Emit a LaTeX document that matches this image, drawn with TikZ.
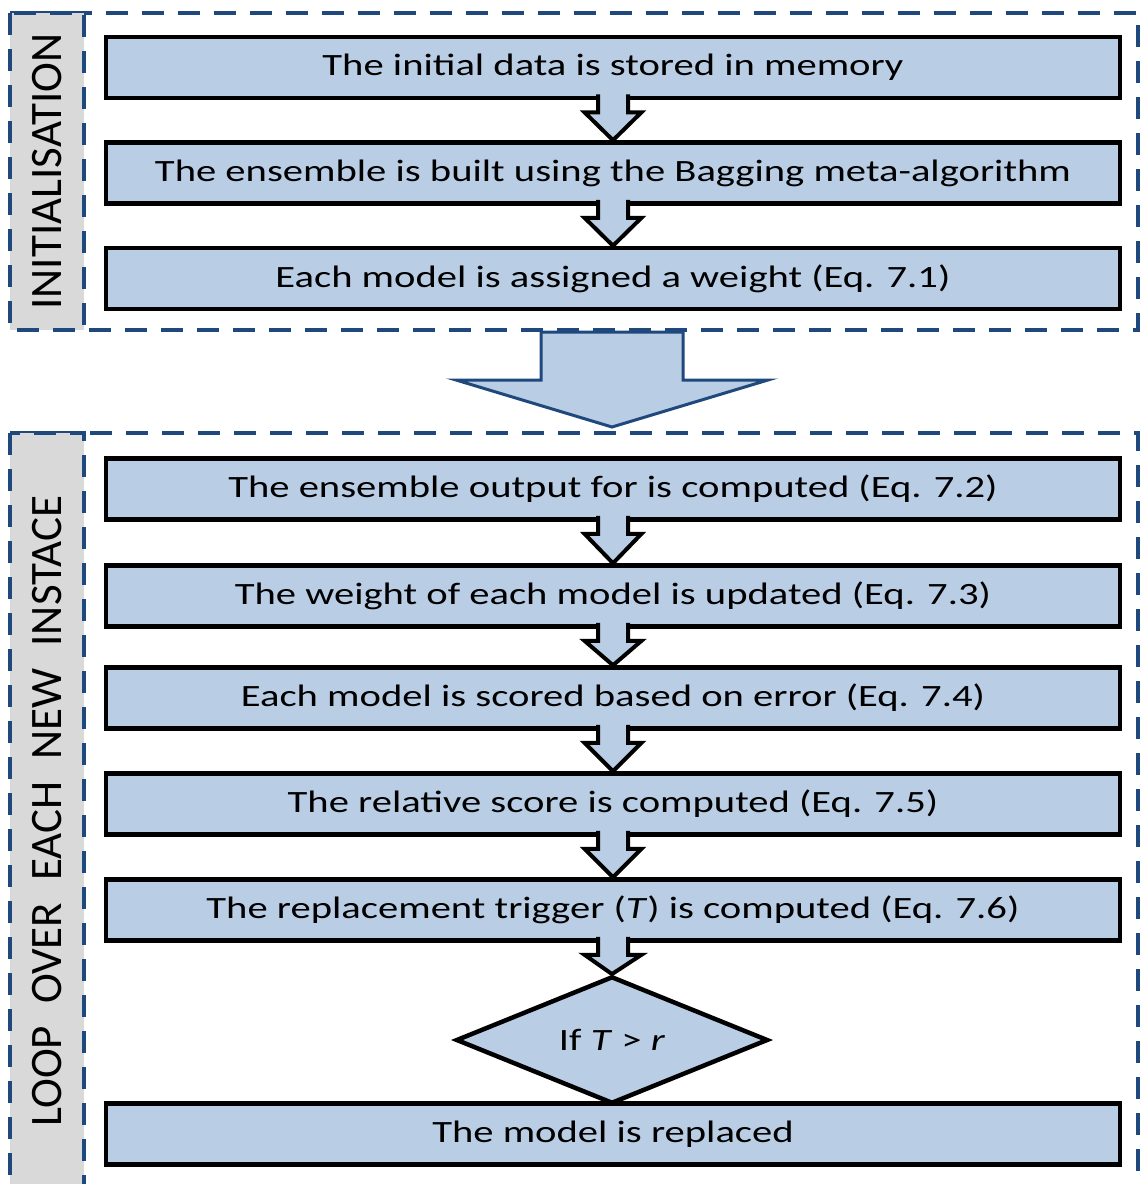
\documentclass[tikz,border=0pt]{standalone}
\usepackage{fontspec}
\setmainfont{Carlito}[FakeStretch=1.31]
\newfontfamily\labelfont{Carlito}
\usetikzlibrary{shapes.geometric,calc}
\definecolor{boxblue}{HTML}{B9CDE5}
\definecolor{frameblue}{HTML}{1F497D}
\definecolor{labelgray}{HTML}{D9D9D9}
\newcommand\widewords{\spaceskip=22pt\relax}
\tikzset{
  stepbox/.style={draw=black, line width=4.5pt, fill=boxblue,
    minimum width=1014pt, minimum height=61pt, inner sep=0pt,
    font=\fontsize{31}{36}\selectfont},
  decision/.style={diamond, draw=black, line width=4.5pt, fill=boxblue,
    minimum width=312pt, minimum height=112pt, inner sep=0pt,
    font=\fontsize{31}{36}\selectfont},
  phaseframe/.style={draw=frameblue, line width=4pt, dash pattern=on 22pt off 14pt},
  phaselabel/.style={phaseframe, fill=labelgray},
  phasetext/.style={rotate=90, font=\labelfont\fontsize{45}{52}\selectfont},
  flowline/.style={draw=black, line width=4pt, fill=boxblue, line join=miter},
  bigarrow/.style={draw=frameblue, line width=3pt, fill=boxblue, line join=miter}
}
% block arrow from the bottom of one step to the top of the next
\newcommand\flowarrow[2]{%
  \path[flowline]
    ($(#1.south)+(-15,-6)$) -- ($(#1.south)+(-15,12)$) -- ($(#1.south)+(-28.5,12)$)
    -- (#2.north) -- ($(#1.south)+(28.5,12)$) -- ($(#1.south)+(15,12)$)
    -- ($(#1.south)+(15,-6)$);}
\begin{document}
\begin{tikzpicture}[x=1pt, y=-1pt]
  \useasboundingbox (0,0) rectangle (1141,1184);

  % phase frames
  \draw[phaseframe] (10,13) rectangle (1138,330);
  \draw[phaselabel] (10,13) rectangle (84,330);
  \node[phasetext] (initlabel) at (47,171.5) {INITIALISATION};

  \draw[phaseframe] (10,433) rectangle (1138,1210);
  \draw[phaselabel] (10,433) rectangle (84,1210);
  \node[phasetext] (looplabel) at (47,811) {\widewords LOOP OVER EACH NEW INSTACE};

  % initialisation steps
  \node[stepbox] (s1) at (613,67.5) {The initial data is stored in memory};
  \node[stepbox] (s2) at (613,173) {The ensemble is built using the Bagging meta-algorithm};
  \node[stepbox] (s3) at (613,278.5) {Each model is assigned a weight (Eq. 7.1)};

  % loop steps
  \node[stepbox] (l1) at (613,489) {The ensemble output for is computed (Eq. 7.2)};
  \node[stepbox] (l2) at (613,596) {The weight of each model is updated (Eq. 7.3)};
  \node[stepbox] (l3) at (613,698) {Each model is scored based on error (Eq. 7.4)};
  \node[stepbox] (l4) at (613,804) {The relative score is computed (Eq. 7.5)};
  \node[stepbox] (l5) at (613,910) {The replacement trigger (\textit{T}) is computed (Eq. 7.6)};
  \node[decision] (cond) at (612,1040) {If \textit{T} > \textit{r}};
  \node[stepbox] (l6) at (613,1134) {The model is replaced};

  % connectors
  \flowarrow{s1}{s2}
  \flowarrow{s2}{s3}
  \flowarrow{l1}{l2}
  \flowarrow{l2}{l3}
  \flowarrow{l3}{l4}
  \flowarrow{l4}{l5}
  \flowarrow{l5}{cond}

  % transition between the two phases
  \coordinate (bigtop) at (612,332);
  \coordinate (bigtip) at (612,427);
  \path[bigarrow]
    ($(bigtop)+(-71,0)$) -- ($(bigtop)+(-71,48)$) -- ($(bigtop)+(-156,48)$)
    -- (bigtip) -- ($(bigtop)+(156,48)$) -- ($(bigtop)+(71,48)$)
    -- ($(bigtop)+(71,0)$) -- cycle;
\end{tikzpicture}
\end{document}
